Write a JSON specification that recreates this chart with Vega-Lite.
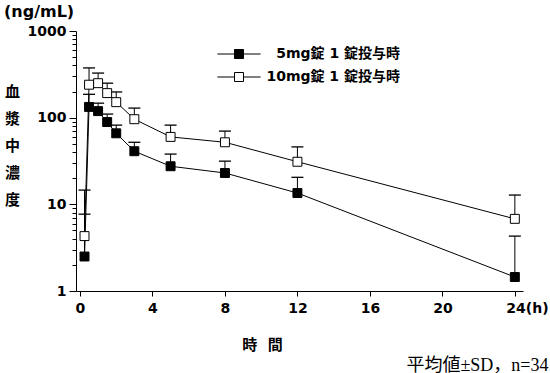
{
  "$schema": "https://vega.github.io/schema/vega-lite/v6.json",
  "width": 447,
  "height": 260,
  "autosize": "none",
  "padding": {"left": 76, "top": 31, "right": 27, "bottom": 82},
  "background": "white",
  "title": {"text": "(ng/mL)", "anchor": "start", "frame": "group", "dx": -72, "offset": 4, "font": "DejaVu Sans", "fontSize": 16, "fontWeight": "bold", "color": "black"},
  "data": {"values": [
    {"group": "5mg錠 1 錠投与時", "t": 0.25, "mean": 2.5, "upper": 7.7},
    {"group": "5mg錠 1 錠投与時", "t": 0.5, "mean": 133, "upper": 186},
    {"group": "5mg錠 1 錠投与時", "t": 1, "mean": 119, "upper": 147},
    {"group": "5mg錠 1 錠投与時", "t": 1.5, "mean": 89, "upper": 110},
    {"group": "5mg錠 1 錠投与時", "t": 2, "mean": 66, "upper": 82},
    {"group": "5mg錠 1 錠投与時", "t": 3, "mean": 41, "upper": 52},
    {"group": "5mg錠 1 錠投与時", "t": 5, "mean": 27.5, "upper": 38},
    {"group": "5mg錠 1 錠投与時", "t": 8, "mean": 23, "upper": 31.5},
    {"group": "5mg錠 1 錠投与時", "t": 12, "mean": 13.5, "upper": 20.5},
    {"group": "5mg錠 1 錠投与時", "t": 24, "mean": 1.45, "upper": 4.3},
    {"group": "10mg錠 1 錠投与時", "t": 0.25, "mean": 4.3, "upper": 14.6},
    {"group": "10mg錠 1 錠投与時", "t": 0.5, "mean": 240, "upper": 375},
    {"group": "10mg錠 1 錠投与時", "t": 1, "mean": 250, "upper": 327},
    {"group": "10mg錠 1 錠投与時", "t": 1.5, "mean": 192, "upper": 250},
    {"group": "10mg錠 1 錠投与時", "t": 2, "mean": 151, "upper": 198},
    {"group": "10mg錠 1 錠投与時", "t": 3, "mean": 96, "upper": 129},
    {"group": "10mg錠 1 錠投与時", "t": 5, "mean": 60, "upper": 82},
    {"group": "10mg錠 1 錠投与時", "t": 8, "mean": 52, "upper": 70},
    {"group": "10mg錠 1 錠投与時", "t": 12, "mean": 31, "upper": 46},
    {"group": "10mg錠 1 錠投与時", "t": 24, "mean": 6.8, "upper": 12.8}
  ]},
  "config": {
    "view": {"stroke": null},
    "axis": {"domainColor": "black", "tickColor": "black", "labelColor": "black", "titleColor": "black", "grid": false, "domainWidth": 1, "tickWidth": 1}
  },
  "encoding": {
    "x": {
      "field": "t", "type": "quantitative",
      "scale": {"domain": [-0.22, 24.45], "nice": false, "zero": false},
      "axis": {
        "values": [0, 4, 8, 12, 16, 20, 24],
        "title": "時\u2002\u2009間", "titleX": 186, "titleY": 53, "titleAlign": "center", "titleBaseline": "middle",
        "titleFont": "Noto Sans CJK JP", "titleFontSize": 15, "titleFontWeight": "bold",
        "labelFont": "DejaVu Sans", "labelFontSize": 14, "labelFontWeight": "bold",
        "tickSize": 5, "labelPadding": 5, "labelFlush": false, "labelOverlap": false,
        "labelExpr": "datum.value == 24 ? '24(h)' : datum.label",
        "labelAlign": {"condition": {"test": "datum.value == 24", "value": "left"}, "value": "center"},
        "labelOffset": {"condition": {"test": "datum.value == 24", "value": -9}, "value": 0}
      }
    }
  },
  "layer": [
    {
      "mark": {"type": "rule", "color": "black", "strokeWidth": 1},
      "encoding": {
        "y": {
          "field": "mean", "type": "quantitative",
          "scale": {"type": "log", "domain": [1, 1000], "nice": false},
          "axis": {
            "title": ["血", "漿", "中", "濃", "度"], "titleAngle": 0, "titleX": -64, "titleY": 60,
            "titleAlign": "center", "titleBaseline": "middle", "titleLineHeight": 27,
            "titleFont": "Noto Sans CJK JP", "titleFontSize": 15, "titleFontWeight": "bold",
            "values": [1, 2, 3, 4, 5, 6, 7, 8, 9, 10, 20, 30, 40, 50, 60, 70, 80, 90, 100, 200, 300, 400, 500, 600, 700, 800, 900, 1000],
            "format": "d",
            "labelExpr": "datum.value == 1 || datum.value == 10 || datum.value == 100 || datum.value == 1000 ? datum.label : ''",
            "labelFont": "DejaVu Sans", "labelFontSize": 14, "labelFontWeight": "bold",
            "labelPadding": 3, "labelOverlap": false, "labelFlush": false,
            "tickSize": {"condition": {"test": "datum.value == 1 || datum.value == 10 || datum.value == 100 || datum.value == 1000", "value": 7}, "value": 4}
          }
        },
        "y2": {"field": "upper"},
        "detail": {"field": "group"}
      }
    },
    {
      "mark": {"type": "tick", "orient": "horizontal", "color": "black", "size": 12, "thickness": 1.3, "opacity": 1},
      "encoding": {
        "y": {"field": "upper", "type": "quantitative", "axis": null}
      }
    },
    {
      "mark": {"type": "line", "color": "black", "strokeWidth": 1},
      "encoding": {
        "y": {"field": "mean", "type": "quantitative", "axis": null},
        "detail": {"field": "group"}
      }
    },
    {
      "mark": {"type": "point", "shape": "square", "size": 80, "filled": true, "stroke": "black", "strokeWidth": 1, "opacity": 1},
      "encoding": {
        "y": {
          "field": "mean", "type": "quantitative",
          "axis": {
            "orient": "right", "title": "平均値±SD，n=34", "titleAngle": 0, "titleX": 25, "titleY": 334,
            "titleAlign": "right", "titleBaseline": "middle",
            "titleFont": "Liberation Serif, Noto Sans CJK JP", "titleFontSize": 18, "titleFontWeight": "normal",
            "domain": false, "ticks": false, "labels": false
          }
        },
        "fill": {
          "field": "group", "type": "nominal",
          "scale": {"domain": ["5mg錠 1 錠投与時", "10mg錠 1 錠投与時"], "range": ["black", "white"]},
          "legend": {
            "orient": "none", "legendX": 156, "legendY": 16, "title": null,
            "symbolType": "M-4.8,0H-1M-1,-1H1V1H-1ZM1,0H4.8", "symbolSize": 81,
            "symbolStrokeColor": "black", "symbolStrokeWidth": 1,
            "labelFont": "DejaVu Sans, Noto Sans CJK JP", "labelFontSize": 14, "labelFontWeight": "bold", "labelColor": "black",
            "labelOffset": 154, "rowPadding": 9, "labelAlign": "right",
            "encode": {"symbols": {"update": {"shape": {"value": "M-4.8,0H-1M-1,-1H1V1H-1ZM1,0H4.8"}, "stroke": {"value": "black"}, "opacity": {"value": 1}}}}
          }
        }
      }
    }
  ],
  "resolve": {"axis": {"y": "independent"}}
}
